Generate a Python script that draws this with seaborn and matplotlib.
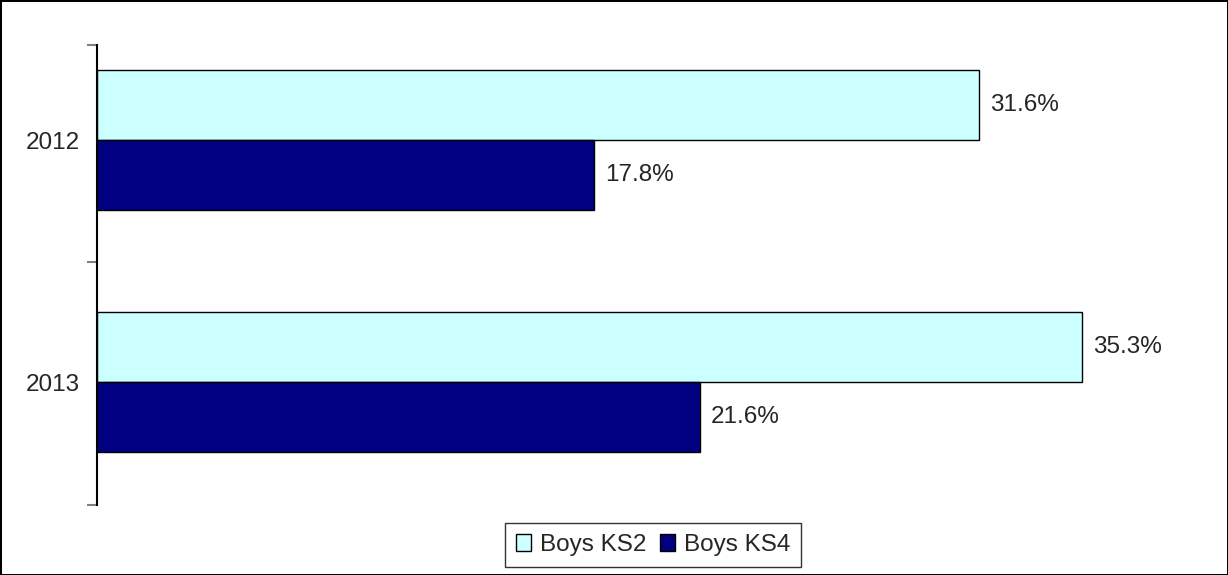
import numpy as np
import pandas as pd
import matplotlib
matplotlib.use("Agg")
import matplotlib.pyplot as plt
import seaborn as sns

years = ["2012", "2013"]
series = ["Boys KS2", "Boys KS4"]
ks2 = [31.6, 35.3]
ks4 = [17.8, 21.6]
colors = ["#CCFFFF", "#000080"]

df = pd.DataFrame({
    "year": years * 2,
    "group": [series[0]] * 2 + [series[1]] * 2,
    "value": ks2 + ks4,
})

sns.set_style("white")
plt.rcParams["font.family"] = ["Liberation Sans", "DejaVu Sans"]

fig = plt.figure(figsize=(12.28, 5.75), dpi=100)
ax = fig.add_axes([97 / 1228, 70 / 575, 1116 / 1228, 460 / 575])

sns.barplot(data=df, x="value", y="year", hue="group", order=years,
            hue_order=series, palette=colors, orient="h", width=0.58,
            edgecolor="black", linewidth=1, saturation=1, ax=ax)

for cont in ax.containers:
    ax.bar_label(cont, labels=[f"{v:.1f}%" for v in cont.datavalues],
                 padding=8, fontsize=17.5)

ax.set_xlim(0, 40)
ax.set_ylim(1.508, -0.393)
ax.set_xlabel("")
ax.set_ylabel("")
ax.set_xticks([])

# tick marks at category boundaries, labels at centres
ax.set_yticks([-0.393, 0.504, 1.508])
ax.set_yticklabels(["", "", ""])
ax.set_yticks([0, 1], minor=True)
ax.set_yticklabels(years, minor=True, fontsize=17.5)
ax.tick_params(axis="y", which="major", left=True, length=7, width=1.5,
               color="#808080")
ax.tick_params(axis="y", which="minor", left=False, length=0, pad=12)

for s in ["top", "right", "bottom"]:
    ax.spines[s].set_visible(False)
ax.spines["left"].set_color("black")
ax.spines["left"].set_linewidth(1.5)

ax.legend_.remove()
leg = fig.legend(handles=ax.containers[0].patches[:1] + ax.containers[1].patches[:1],
                 labels=series, loc="center", bbox_to_anchor=(653 / 1228, 1 - 545 / 575),
                 ncol=2, fontsize=17.5, frameon=True, fancybox=False,
                 edgecolor="black", handlelength=0.65, handleheight=0.65,
                 handletextpad=0.35, columnspacing=0.55, borderpad=0.45,
                 borderaxespad=0)
leg.get_frame().set_linewidth(1)

fig.patch.set_edgecolor("black")
fig.patch.set_linewidth(2)

fig.savefig("out.png", dpi=100, edgecolor=fig.get_edgecolor())
